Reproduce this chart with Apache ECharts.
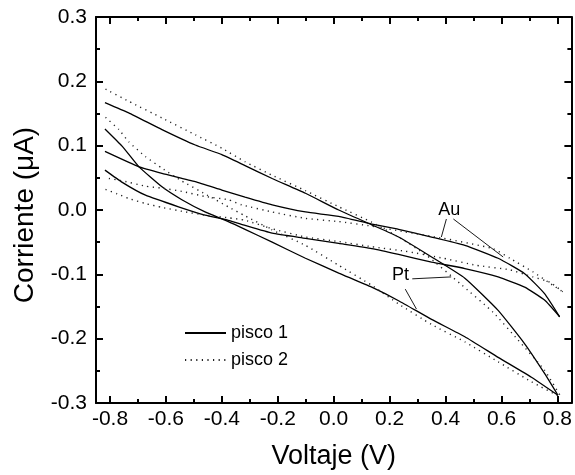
<!DOCTYPE html>
<html>
<head>
<meta charset="utf-8">
<script src="https://cdn.jsdelivr.net/npm/echarts@6/dist/echarts.min.js"></script>
<style>html,body{margin:0;padding:0;background:#fff}#c{width:575px;height:475px}</style>
</head>
<body>
<div id="c"></div>
<script>
// Tick positions
const xTicksMajor = [-0.8, -0.6, -0.4, -0.2, 0, 0.2, 0.4, 0.6, 0.8];
const xTicksMinor = [-0.7, -0.5, -0.3, -0.1, 0.1, 0.3, 0.5, 0.7];
const yTicksMajor = [-0.3, -0.2, -0.1, 0, 0.1, 0.2, 0.3];
const yTicksMinor = [-0.25, -0.15, -0.05, 0.05, 0.15, 0.25];

// pisco 1 (solid) - Pt loop
const ptUpperV1 = [-0.818,-0.733,-0.614,-0.495,-0.400,-0.317,-0.220,-0.101,0.018,0.136,0.232,0.350,0.469,0.588,0.683,0.754,0.802];
const ptUpperI1 = [0.167,0.151,0.125,0.101,0.086,0.069,0.049,0.026,0.000,-0.023,-0.042,-0.073,-0.106,-0.156,-0.208,-0.254,-0.288];
const ptLowerV1 = [-0.818,-0.756,-0.696,-0.614,-0.543,-0.460,-0.377,-0.317,-0.220,-0.101,0.018,0.136,0.232,0.350,0.469,0.588,0.707,0.802];
const ptLowerI1 = [0.126,0.099,0.067,0.036,0.016,-0.003,-0.018,-0.030,-0.050,-0.075,-0.098,-0.120,-0.141,-0.170,-0.197,-0.229,-0.260,-0.288];
// pisco 1 (solid) - Au loop
const auUpperV1 = [-0.818,-0.696,-0.614,-0.495,-0.400,-0.317,-0.220,-0.101,0.018,0.136,0.232,0.350,0.469,0.588,0.683,0.754,0.808];
const auUpperI1 = [0.091,0.067,0.057,0.044,0.031,0.020,0.008,-0.003,-0.010,-0.022,-0.030,-0.042,-0.055,-0.075,-0.099,-0.130,-0.166];
const auLowerV1 = [-0.818,-0.756,-0.673,-0.555,-0.460,-0.377,-0.317,-0.220,-0.101,0.018,0.136,0.232,0.350,0.469,0.588,0.683,0.754,0.808];
const auLowerI1 = [0.062,0.043,0.023,0.005,-0.008,-0.016,-0.024,-0.036,-0.044,-0.052,-0.060,-0.069,-0.081,-0.091,-0.104,-0.120,-0.140,-0.166];

// pisco 2 (dotted) - Pt loop
const ptUpperV2 = [-0.816,-0.733,-0.614,-0.495,-0.400,-0.317,-0.220,-0.101,0.018,0.136,0.232,0.331,0.451,0.570,0.659,0.754,0.812];
const ptUpperI2 = [0.188,0.169,0.143,0.117,0.096,0.075,0.054,0.030,0.005,-0.019,-0.042,-0.070,-0.114,-0.159,-0.202,-0.249,-0.290];
const ptLowerV2 = [-0.816,-0.768,-0.733,-0.673,-0.614,-0.543,-0.460,-0.377,-0.317,-0.220,-0.101,0.018,0.136,0.232,0.350,0.469,0.588,0.707,0.812];
const ptLowerI2 = [0.144,0.125,0.106,0.083,0.065,0.045,0.025,0.005,-0.009,-0.031,-0.055,-0.086,-0.117,-0.146,-0.178,-0.205,-0.236,-0.267,-0.291];
// pisco 2 (dotted) - Au loop
const auUpperV2 = [-0.804,-0.752,-0.673,-0.614,-0.543,-0.460,-0.377,-0.329,-0.221,-0.101,0.018,0.135,0.255,0.392,0.570,0.630,0.712,0.784,0.819];
const auUpperI2 = [0.049,0.045,0.037,0.034,0.029,0.021,0.016,0.008,-0.003,-0.013,-0.018,-0.025,-0.034,-0.044,-0.060,-0.075,-0.096,-0.117,-0.127];
const auLowerV2 = [-0.816,-0.774,-0.733,-0.673,-0.614,-0.543,-0.460,-0.377,-0.317,-0.221,-0.101,0.018,0.135,0.255,0.392,0.510,0.630,0.712,0.772,0.819];
const auLowerI2 = [0.032,0.025,0.018,0.010,0.004,-0.002,-0.008,-0.012,-0.016,-0.029,-0.042,-0.049,-0.057,-0.064,-0.075,-0.086,-0.093,-0.104,-0.112,-0.127];

// Annotation labels and arrows (data coordinates)
const labelAu = [0.413, 0.0];
const labelPt = [0.239, -0.101];
const arrowAu1 = [[0.403, -0.014], [0.385, -0.042]];
const arrowAu2 = [[0.428, -0.014], [0.606, -0.073]];
const arrowPt1 = [[0.281, -0.107], [0.420, -0.104]];
const arrowPt2 = [[0.256, -0.123], [0.296, -0.154]];

const FONT = 'Liberation Sans, Arial, sans-serif';
const zip = (a, b) => a.map((v, i) => [v, b[i]]);
const fmt = v => v.toFixed(1);

const solid = { color: '#000', width: 1.3, type: 'solid' };
const dotted = { color: '#222', width: 1.4, type: [1.2, 4.4] };

function curve(name, V, I, style, extra) {
  return Object.assign({
    type: 'line', name: name, data: zip(V, I), showSymbol: false, symbol: 'none',
    smooth: 0.15, lineStyle: style, itemStyle: { color: style.color },
    emphasis: { disabled: true }, silent: true, animation: false, z: 3
  }, extra || {});
}

const arrows = [arrowAu1, arrowAu2, arrowPt1, arrowPt2].map(a => [{ coord: a[0] }, { coord: a[1] }]);

const xBase = { type: 'value', min: -0.85, max: 0.85, splitLine: { show: false } };
const yBase = { type: 'value', min: -0.3, max: 0.3, splitLine: { show: false } };
const axLine = { show: true, onZero: false, lineStyle: { color: '#000', width: 2 } };
const noLine = { show: false, onZero: false };

function tick(vals, len) {
  return { show: true, inside: true, length: len, customValues: vals, lineStyle: { color: '#000', width: 2 } };
}

const option = {
  animation: false,
  backgroundColor: '#fff',
  grid: { left: 96, right: 2, top: 17, bottom: 71, containLabel: false },
  legend: {
    orient: 'vertical', left: 179, top: 319, itemWidth: 41, itemHeight: 14, itemGap: 9,
    data: ['pisco 1', 'pisco 2'],
    itemStyle: { opacity: 0 },
    textStyle: { fontFamily: FONT, fontSize: 18, color: '#000' },
    selectedMode: false
  },
  xAxis: [
    Object.assign({}, xBase, {
      position: 'bottom', axisLine: axLine, axisTick: tick(xTicksMajor, 7),
      axisLabel: { show: true, customValues: xTicksMajor, formatter: fmt, margin: 6, fontFamily: FONT, fontSize: 21, color: '#000' },
      name: 'Voltaje (V)', nameLocation: 'middle', nameGap: 40,
      nameTextStyle: { fontFamily: FONT, fontSize: 27, color: '#000' }
    }),
    Object.assign({}, xBase, { position: 'bottom', axisLine: noLine, axisTick: tick(xTicksMinor, 4), axisLabel: { show: false } }),
    Object.assign({}, xBase, { position: 'top', axisLine: axLine, axisTick: tick(xTicksMajor, 7), axisLabel: { show: false } }),
    Object.assign({}, xBase, { position: 'top', axisLine: noLine, axisTick: tick(xTicksMinor, 4), axisLabel: { show: false } })
  ],
  yAxis: [
    Object.assign({}, yBase, {
      position: 'left', axisLine: axLine, axisTick: tick(yTicksMajor, 7),
      axisLabel: { show: true, customValues: yTicksMajor, formatter: fmt, margin: 9, fontFamily: FONT, fontSize: 21, color: '#000' },
      name: 'Corriente (\u03bcA)', nameLocation: 'middle', nameGap: 57, nameRotate: 90,
      nameTextStyle: { fontFamily: FONT, fontSize: 28, color: '#000', padding: [0, 10, 0, 0] }
    }),
    Object.assign({}, yBase, { position: 'left', axisLine: noLine, axisTick: tick(yTicksMinor, 4), axisLabel: { show: false } }),
    Object.assign({}, yBase, { position: 'right', axisLine: axLine, axisTick: tick(yTicksMajor, 7), axisLabel: { show: false } }),
    Object.assign({}, yBase, { position: 'right', axisLine: noLine, axisTick: tick(yTicksMinor, 4), axisLabel: { show: false } })
  ],
  series: [
    curve('pisco 1', ptUpperV1, ptUpperI1, solid, {
      markLine: {
        silent: true, animation: false, symbol: ['none', 'arrow'], symbolSize: [0, 8],
        label: { show: false }, lineStyle: { color: '#000', width: 0.9, type: 'solid' },
        emphasis: { disabled: true }, data: arrows
      },
      markPoint: {
        silent: true, animation: false, symbol: 'circle', symbolSize: 0,
        label: { show: true, position: 'inside', fontFamily: FONT, fontSize: 18, color: '#000', formatter: p => p.name },
        data: [ { name: 'Au', coord: labelAu }, { name: 'Pt', coord: labelPt } ]
      }
    }),
    curve('pisco 1', ptLowerV1, ptLowerI1, solid),
    curve('pisco 1', auUpperV1, auUpperI1, solid),
    curve('pisco 1', auLowerV1, auLowerI1, solid),
    curve('pisco 2', ptUpperV2, ptUpperI2, dotted),
    curve('pisco 2', ptLowerV2, ptLowerI2, dotted),
    curve('pisco 2', auUpperV2, auUpperI2, dotted),
    curve('pisco 2', auLowerV2, auLowerI2, dotted)
  ]
};

const chart = echarts.init(document.getElementById('c'), null, { renderer: 'canvas' });
chart.setOption(option);
</script>
</body>
</html>
